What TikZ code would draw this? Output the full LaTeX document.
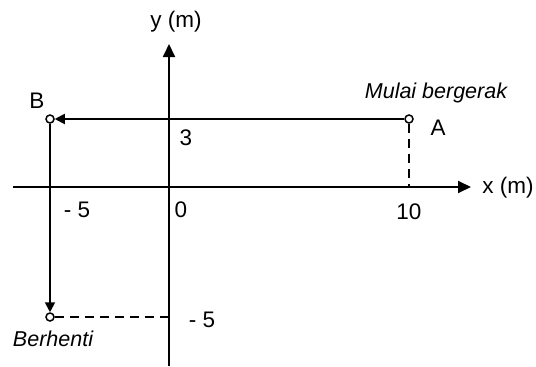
\documentclass[tikz,border=0pt]{standalone}
\usepackage{fontspec}
\setmainfont{Liberation Sans}
\usetikzlibrary{positioning, arrows.meta, calc}

\begin{document}
\begin{tikzpicture}[
        x=1pt, y=-1pt,
        axis/.style={line width=1.8pt, -{Triangle[length=13pt, width=12pt]}},
        move/.style={line width=1.8pt, -{Triangle[length=10pt, width=10pt]}},
        helpline/.style={line width=1.8pt, dash pattern=on 9pt off 6pt},
        pt/.style={draw, circle, line width=1.5pt, inner sep=0pt, minimum size=8pt, fill=white},
        lbl/.style={font=\fontsize{22.5}{26}\selectfont, inner sep=1pt},
        note/.style={font=\fontsize{21.5}{25}\selectfont\itshape, inner sep=1pt}
    ]
    \useasboundingbox (0,0) rectangle (536,367);

    % Achsen
    \coordinate (O) at (169,187);
    \coordinate (xl) at (13,187);
    \coordinate (xr) at (471,187);
    \coordinate (yb) at (169,366);
    \coordinate (yt) at (169,44);
    \draw[axis] (xl) -- (xr);
    \draw[axis] (yb) -- (yt);
    \node[lbl] (xlab) at (508,188) {x (m)};
    \node[lbl] (ylab) at (176,22) {y (m)};

    % Punkte
    \node[pt] (A) at (409,119) {};
    \node[pt] (B) at (50,119) {};
    \node[pt] (C) at (50,317) {};
    \node[lbl] (Alab) at (438,128) {A};
    \node[lbl] (Blab) at (37,101) {B};
    \node[note] (start) at (436,93) {Mulai bergerak};
    \node[note] (stop) at (53,339) {Berhenti};

    % Hilfslinien
    \draw[helpline] (A) -- (A |- O);
    \draw[helpline] (C) -- (C -| O);

    % Weg
    \draw[move] (A) -- (B);
    \draw[move] (B) -- (C);

    % Skala
    \node[lbl] (t3) at (186,138) {3};
    \node[lbl] (t0) at (181,210) {0};
    \node[lbl] (tm5x) at (77,210) {- 5};
    \node[lbl] (t10) at (409,212) {10};
    \node[lbl] (tm5y) at (202,320) {- 5};
\end{tikzpicture}
\end{document}
